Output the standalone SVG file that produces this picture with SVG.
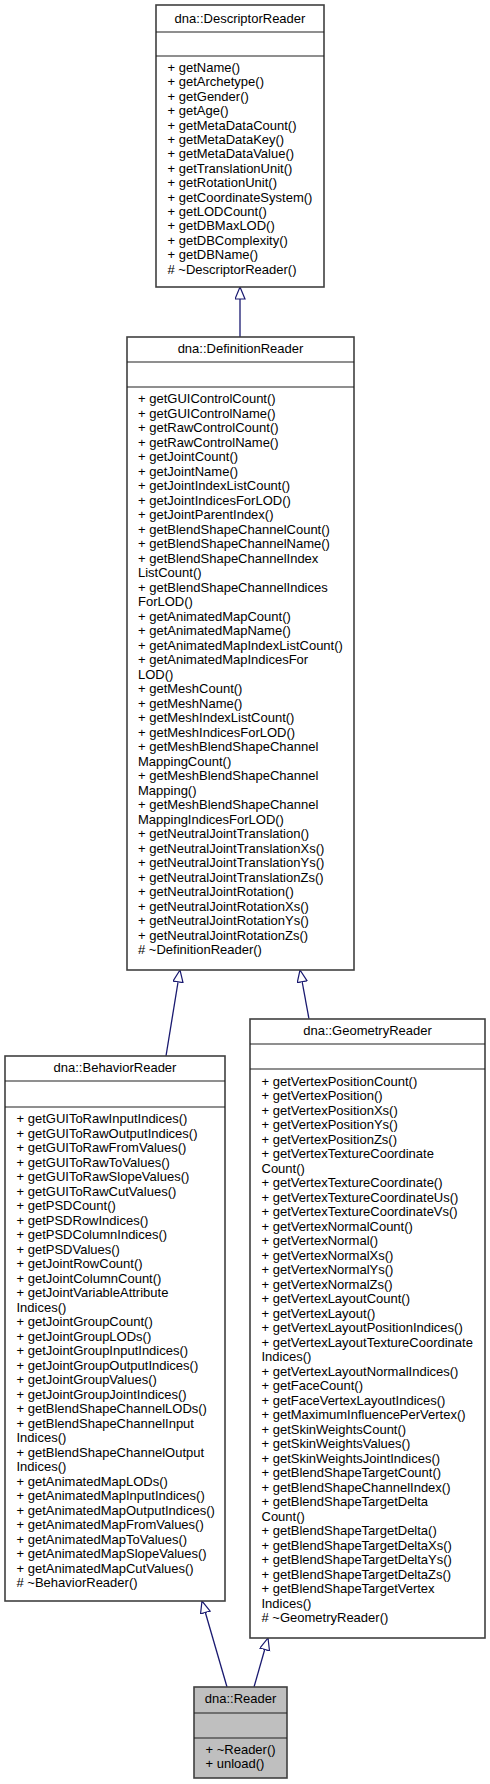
<svg xmlns="http://www.w3.org/2000/svg" width="490" height="1784" viewBox="0 0 490 1784">
<style>
.box{fill:#fff;stroke:#404040;stroke-width:1.6}
.gray{fill:#bfbfbf}
.sep{stroke:#202020;stroke-width:1.2}
text{font-family:"Liberation Sans",Arial,sans-serif;font-size:13px;fill:#000}
.t{text-anchor:middle}
.edge{stroke:#191970;stroke-width:1.3;fill:none}
</style>
<defs>
<marker id="arr" markerUnits="userSpaceOnUse" markerWidth="14" markerHeight="12" refX="12.5" refY="5.5" orient="auto">
<path d="M0.5,0.5 L12.5,5.5 L0.5,10.5 z" fill="#fff" stroke="#191970" stroke-width="1.2"/>
</marker>
</defs>
<rect width="490" height="1784" fill="#fff"/>

<g id="connectors">
<line class="edge" x1="240" y1="337" x2="240" y2="287" marker-end="url(#arr)"/>
<line class="edge" x1="166" y1="1056" x2="180" y2="970" marker-end="url(#arr)"/>
<line class="edge" x1="309" y1="1019" x2="300" y2="970" marker-end="url(#arr)"/>
<line class="edge" x1="227" y1="1687" x2="202" y2="1601" marker-end="url(#arr)"/>
<line class="edge" x1="254" y1="1687" x2="268" y2="1638" marker-end="url(#arr)"/>
</g>

<g id="DescriptorReader">
<rect class="box" x="156" y="5" width="168" height="282"/>
<line class="sep" x1="156" y1="32" x2="324" y2="32"/>
<line class="sep" x1="156" y1="56" x2="324" y2="56"/>
<text class="t" x="240" y="23">dna::DescriptorReader</text>
<text x="167.5" y="72">
<tspan x="167.5" dy="0">+ getName()</tspan>
<tspan x="167.5" dy="14.4">+ getArchetype()</tspan>
<tspan x="167.5" dy="14.4">+ getGender()</tspan>
<tspan x="167.5" dy="14.4">+ getAge()</tspan>
<tspan x="167.5" dy="14.4">+ getMetaDataCount()</tspan>
<tspan x="167.5" dy="14.4">+ getMetaDataKey()</tspan>
<tspan x="167.5" dy="14.4">+ getMetaDataValue()</tspan>
<tspan x="167.5" dy="14.4">+ getTranslationUnit()</tspan>
<tspan x="167.5" dy="14.4">+ getRotationUnit()</tspan>
<tspan x="167.5" dy="14.4">+ getCoordinateSystem()</tspan>
<tspan x="167.5" dy="14.4">+ getLODCount()</tspan>
<tspan x="167.5" dy="14.4">+ getDBMaxLOD()</tspan>
<tspan x="167.5" dy="14.4">+ getDBComplexity()</tspan>
<tspan x="167.5" dy="14.4">+ getDBName()</tspan>
<tspan x="167.5" dy="14.4"># ~DescriptorReader()</tspan>
</text>
</g>

<g id="DefinitionReader">
<rect class="box" x="127" y="337" width="227" height="633"/>
<line class="sep" x1="127" y1="362" x2="354" y2="362"/>
<line class="sep" x1="127" y1="387" x2="354" y2="387"/>
<text class="t" x="240.5" y="353">dna::DefinitionReader</text>
<text x="138" y="403">
<tspan x="138" dy="0">+ getGUIControlCount()</tspan>
<tspan x="138" dy="14.5">+ getGUIControlName()</tspan>
<tspan x="138" dy="14.5">+ getRawControlCount()</tspan>
<tspan x="138" dy="14.5">+ getRawControlName()</tspan>
<tspan x="138" dy="14.5">+ getJointCount()</tspan>
<tspan x="138" dy="14.5">+ getJointName()</tspan>
<tspan x="138" dy="14.5">+ getJointIndexListCount()</tspan>
<tspan x="138" dy="14.5">+ getJointIndicesForLOD()</tspan>
<tspan x="138" dy="14.5">+ getJointParentIndex()</tspan>
<tspan x="138" dy="14.5">+ getBlendShapeChannelCount()</tspan>
<tspan x="138" dy="14.5">+ getBlendShapeChannelName()</tspan>
<tspan x="138" dy="14.5">+ getBlendShapeChannelIndex</tspan>
<tspan x="138" dy="14.5">ListCount()</tspan>
<tspan x="138" dy="14.5">+ getBlendShapeChannelIndices</tspan>
<tspan x="138" dy="14.5">ForLOD()</tspan>
<tspan x="138" dy="14.5">+ getAnimatedMapCount()</tspan>
<tspan x="138" dy="14.5">+ getAnimatedMapName()</tspan>
<tspan x="138" dy="14.5">+ getAnimatedMapIndexListCount()</tspan>
<tspan x="138" dy="14.5">+ getAnimatedMapIndicesFor</tspan>
<tspan x="138" dy="14.5">LOD()</tspan>
<tspan x="138" dy="14.5">+ getMeshCount()</tspan>
<tspan x="138" dy="14.5">+ getMeshName()</tspan>
<tspan x="138" dy="14.5">+ getMeshIndexListCount()</tspan>
<tspan x="138" dy="14.5">+ getMeshIndicesForLOD()</tspan>
<tspan x="138" dy="14.5">+ getMeshBlendShapeChannel</tspan>
<tspan x="138" dy="14.5">MappingCount()</tspan>
<tspan x="138" dy="14.5">+ getMeshBlendShapeChannel</tspan>
<tspan x="138" dy="14.5">Mapping()</tspan>
<tspan x="138" dy="14.5">+ getMeshBlendShapeChannel</tspan>
<tspan x="138" dy="14.5">MappingIndicesForLOD()</tspan>
<tspan x="138" dy="14.5">+ getNeutralJointTranslation()</tspan>
<tspan x="138" dy="14.5">+ getNeutralJointTranslationXs()</tspan>
<tspan x="138" dy="14.5">+ getNeutralJointTranslationYs()</tspan>
<tspan x="138" dy="14.5">+ getNeutralJointTranslationZs()</tspan>
<tspan x="138" dy="14.5">+ getNeutralJointRotation()</tspan>
<tspan x="138" dy="14.5">+ getNeutralJointRotationXs()</tspan>
<tspan x="138" dy="14.5">+ getNeutralJointRotationYs()</tspan>
<tspan x="138" dy="14.5">+ getNeutralJointRotationZs()</tspan>
<tspan x="138" dy="14.5"># ~DefinitionReader()</tspan>
</text>
</g>

<g id="BehaviorReader">
<rect class="box" x="5" y="1056" width="220" height="545"/>
<line class="sep" x1="5" y1="1081" x2="225" y2="1081"/>
<line class="sep" x1="5" y1="1107" x2="225" y2="1107"/>
<text class="t" x="115" y="1072">dna::BehaviorReader</text>
<text x="16.5" y="1123">
<tspan x="16.5" dy="0">+ getGUIToRawInputIndices()</tspan>
<tspan x="16.5" dy="14.5">+ getGUIToRawOutputIndices()</tspan>
<tspan x="16.5" dy="14.5">+ getGUIToRawFromValues()</tspan>
<tspan x="16.5" dy="14.5">+ getGUIToRawToValues()</tspan>
<tspan x="16.5" dy="14.5">+ getGUIToRawSlopeValues()</tspan>
<tspan x="16.5" dy="14.5">+ getGUIToRawCutValues()</tspan>
<tspan x="16.5" dy="14.5">+ getPSDCount()</tspan>
<tspan x="16.5" dy="14.5">+ getPSDRowIndices()</tspan>
<tspan x="16.5" dy="14.5">+ getPSDColumnIndices()</tspan>
<tspan x="16.5" dy="14.5">+ getPSDValues()</tspan>
<tspan x="16.5" dy="14.5">+ getJointRowCount()</tspan>
<tspan x="16.5" dy="14.5">+ getJointColumnCount()</tspan>
<tspan x="16.5" dy="14.5">+ getJointVariableAttribute</tspan>
<tspan x="16.5" dy="14.5">Indices()</tspan>
<tspan x="16.5" dy="14.5">+ getJointGroupCount()</tspan>
<tspan x="16.5" dy="14.5">+ getJointGroupLODs()</tspan>
<tspan x="16.5" dy="14.5">+ getJointGroupInputIndices()</tspan>
<tspan x="16.5" dy="14.5">+ getJointGroupOutputIndices()</tspan>
<tspan x="16.5" dy="14.5">+ getJointGroupValues()</tspan>
<tspan x="16.5" dy="14.5">+ getJointGroupJointIndices()</tspan>
<tspan x="16.5" dy="14.5">+ getBlendShapeChannelLODs()</tspan>
<tspan x="16.5" dy="14.5">+ getBlendShapeChannelInput</tspan>
<tspan x="16.5" dy="14.5">Indices()</tspan>
<tspan x="16.5" dy="14.5">+ getBlendShapeChannelOutput</tspan>
<tspan x="16.5" dy="14.5">Indices()</tspan>
<tspan x="16.5" dy="14.5">+ getAnimatedMapLODs()</tspan>
<tspan x="16.5" dy="14.5">+ getAnimatedMapInputIndices()</tspan>
<tspan x="16.5" dy="14.5">+ getAnimatedMapOutputIndices()</tspan>
<tspan x="16.5" dy="14.5">+ getAnimatedMapFromValues()</tspan>
<tspan x="16.5" dy="14.5">+ getAnimatedMapToValues()</tspan>
<tspan x="16.5" dy="14.5">+ getAnimatedMapSlopeValues()</tspan>
<tspan x="16.5" dy="14.5">+ getAnimatedMapCutValues()</tspan>
<tspan x="16.5" dy="14.5"># ~BehaviorReader()</tspan>
</text>
</g>

<g id="GeometryReader">
<rect class="box" x="250" y="1019" width="235" height="619"/>
<line class="sep" x1="250" y1="1044" x2="485" y2="1044"/>
<line class="sep" x1="250" y1="1069" x2="485" y2="1069"/>
<text class="t" x="367.5" y="1035">dna::GeometryReader</text>
<text x="261.5" y="1085.5">
<tspan x="261.5" dy="0">+ getVertexPositionCount()</tspan>
<tspan x="261.5" dy="14.5">+ getVertexPosition()</tspan>
<tspan x="261.5" dy="14.5">+ getVertexPositionXs()</tspan>
<tspan x="261.5" dy="14.5">+ getVertexPositionYs()</tspan>
<tspan x="261.5" dy="14.5">+ getVertexPositionZs()</tspan>
<tspan x="261.5" dy="14.5">+ getVertexTextureCoordinate</tspan>
<tspan x="261.5" dy="14.5">Count()</tspan>
<tspan x="261.5" dy="14.5">+ getVertexTextureCoordinate()</tspan>
<tspan x="261.5" dy="14.5">+ getVertexTextureCoordinateUs()</tspan>
<tspan x="261.5" dy="14.5">+ getVertexTextureCoordinateVs()</tspan>
<tspan x="261.5" dy="14.5">+ getVertexNormalCount()</tspan>
<tspan x="261.5" dy="14.5">+ getVertexNormal()</tspan>
<tspan x="261.5" dy="14.5">+ getVertexNormalXs()</tspan>
<tspan x="261.5" dy="14.5">+ getVertexNormalYs()</tspan>
<tspan x="261.5" dy="14.5">+ getVertexNormalZs()</tspan>
<tspan x="261.5" dy="14.5">+ getVertexLayoutCount()</tspan>
<tspan x="261.5" dy="14.5">+ getVertexLayout()</tspan>
<tspan x="261.5" dy="14.5">+ getVertexLayoutPositionIndices()</tspan>
<tspan x="261.5" dy="14.5">+ getVertexLayoutTextureCoordinate</tspan>
<tspan x="261.5" dy="14.5">Indices()</tspan>
<tspan x="261.5" dy="14.5">+ getVertexLayoutNormalIndices()</tspan>
<tspan x="261.5" dy="14.5">+ getFaceCount()</tspan>
<tspan x="261.5" dy="14.5">+ getFaceVertexLayoutIndices()</tspan>
<tspan x="261.5" dy="14.5">+ getMaximumInfluencePerVertex()</tspan>
<tspan x="261.5" dy="14.5">+ getSkinWeightsCount()</tspan>
<tspan x="261.5" dy="14.5">+ getSkinWeightsValues()</tspan>
<tspan x="261.5" dy="14.5">+ getSkinWeightsJointIndices()</tspan>
<tspan x="261.5" dy="14.5">+ getBlendShapeTargetCount()</tspan>
<tspan x="261.5" dy="14.5">+ getBlendShapeChannelIndex()</tspan>
<tspan x="261.5" dy="14.5">+ getBlendShapeTargetDelta</tspan>
<tspan x="261.5" dy="14.5">Count()</tspan>
<tspan x="261.5" dy="14.5">+ getBlendShapeTargetDelta()</tspan>
<tspan x="261.5" dy="14.5">+ getBlendShapeTargetDeltaXs()</tspan>
<tspan x="261.5" dy="14.5">+ getBlendShapeTargetDeltaYs()</tspan>
<tspan x="261.5" dy="14.5">+ getBlendShapeTargetDeltaZs()</tspan>
<tspan x="261.5" dy="14.5">+ getBlendShapeTargetVertex</tspan>
<tspan x="261.5" dy="14.5">Indices()</tspan>
<tspan x="261.5" dy="14.5"># ~GeometryReader()</tspan>
</text>
</g>

<g id="Reader">
<rect class="box gray" x="194" y="1687" width="93" height="91"/>
<line class="sep" x1="194" y1="1713" x2="287" y2="1713"/>
<line class="sep" x1="194" y1="1738" x2="287" y2="1738"/>
<text class="t" x="240.5" y="1703">dna::Reader</text>
<text x="205.5" y="1754">
<tspan x="205.5" dy="0">+ ~Reader()</tspan>
<tspan x="205.5" dy="14">+ unload()</tspan>
</text>
</g>
</svg>
